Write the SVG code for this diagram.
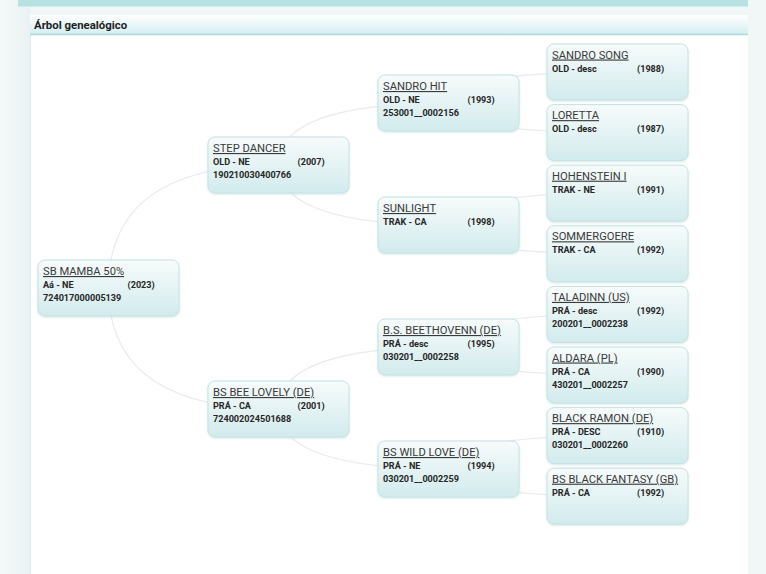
<svg xmlns="http://www.w3.org/2000/svg" width="766" height="574" viewBox="0 0 766 574">
<defs>
<linearGradient id="boxg" x1="0" y1="0" x2="0" y2="1">
<stop offset="0" stop-color="#f7fbfb"/>
<stop offset="1" stop-color="#d2ebed"/>
</linearGradient>
<linearGradient id="hdrg" x1="0" y1="0" x2="0" y2="1">
<stop offset="0" stop-color="#ffffff"/>
<stop offset="1" stop-color="#d2edef"/>
</linearGradient>
<linearGradient id="leftg" x1="0" y1="0" x2="1" y2="0">
<stop offset="0" stop-color="#f5f9f9"/>
<stop offset="1" stop-color="#e9f2f3"/>
</linearGradient>
<filter id="sh" x="-10%" y="-10%" width="120%" height="130%">
<feDropShadow dx="0" dy="1" stdDeviation="1" flood-color="#8fbfc2" flood-opacity="0.35"/>
</filter>
<style>
.box{fill:url(#boxg);stroke:#c6e2e4;stroke-width:1;filter:url(#sh)}
.nm{font-family:Roboto,"Liberation Sans",sans-serif;font-size:11.2px;fill:#3a3a3a;text-decoration:underline}
.dt{font-family:Roboto,"Liberation Sans",sans-serif;font-size:9.1px;font-weight:bold;fill:#262626}
.lk{fill:none;stroke:#eaedee;stroke-width:1.3}
.hd{font-family:Roboto,"Liberation Sans",sans-serif;font-size:11.4px;font-weight:bold;fill:#1e1e1e}
</style>
</defs>
<rect x="0" y="0" width="766" height="574" fill="#f1f7f7"/>
<rect x="0" y="0" width="30" height="574" fill="url(#leftg)"/>
<rect x="18" y="0" width="730" height="6.5" fill="#b8e1e2"/>
<rect x="30" y="15" width="718" height="559" fill="#ffffff"/>
<line x1="30.5" y1="15" x2="30.5" y2="574" stroke="#d8ebec" stroke-width="1"/>
<rect x="30" y="15" width="718" height="20" fill="url(#hdrg)"/>
<line x1="30" y1="34.5" x2="748" y2="34.5" stroke="#acdadc" stroke-width="1.5"/>
<text class="hd" x="34" y="29">Árbol genealógico</text>

<g id="connectors">
<path class="lk" d="M108.5,288 Q108.5,164.7 278.5,164.7"/>
<path class="lk" d="M108.5,288 Q108.5,409 278.5,409"/>
<path class="lk" d="M278.5,164.7 Q278.5,103 448.5,103"/>
<path class="lk" d="M278.5,164.7 Q278.5,225 448.5,225"/>
<path class="lk" d="M278.5,409 Q278.5,347 448.5,347"/>
<path class="lk" d="M278.5,409 Q278.5,469 448.5,469"/>
<path class="lk" d="M448.5,103 Q448.5,72 617.5,72"/>
<path class="lk" d="M448.5,103 Q448.5,132.6 617.5,132.6"/>
<path class="lk" d="M448.5,225 Q448.5,193.2 617.5,193.2"/>
<path class="lk" d="M448.5,225 Q448.5,253.8 617.5,253.8"/>
<path class="lk" d="M448.5,347 Q448.5,314.4 617.5,314.4"/>
<path class="lk" d="M448.5,347 Q448.5,375 617.5,375"/>
<path class="lk" d="M448.5,469 Q448.5,435.6 617.5,435.6"/>
<path class="lk" d="M448.5,469 Q448.5,496.2 617.5,496.2"/>
</g>

<g id="n-sbmamba">
<rect class="box" x="38" y="260" width="141" height="56" rx="7"/>
<text class="nm" x="43" y="275">SB MAMBA 50%</text>
<text class="dt" x="43" y="288">Aá - NE</text>
<text class="dt" x="127.5" y="288">(2023)</text>
<text class="dt" x="43" y="301">724017000005139</text>
</g>

<g id="n-stepdancer">
<rect class="box" x="208" y="137" width="141" height="56" rx="7"/>
<text class="nm" x="213" y="152">STEP DANCER</text>
<text class="dt" x="213" y="165">OLD - NE</text>
<text class="dt" x="297.5" y="165">(2007)</text>
<text class="dt" x="213" y="178">190210030400766</text>
</g>

<g id="n-beelovely">
<rect class="box" x="208" y="381" width="141" height="56" rx="7"/>
<text class="nm" x="213" y="396">BS BEE LOVELY (DE)</text>
<text class="dt" x="213" y="409">PRÁ - CA</text>
<text class="dt" x="297.5" y="409">(2001)</text>
<text class="dt" x="213" y="422">724002024501688</text>
</g>

<g id="n-sandrohit">
<rect class="box" x="378" y="75" width="141" height="56" rx="7"/>
<text class="nm" x="383" y="90">SANDRO HIT</text>
<text class="dt" x="383" y="103">OLD - NE</text>
<text class="dt" x="467.5" y="103">(1993)</text>
<text class="dt" x="383" y="116">253001__0002156</text>
</g>

<g id="n-sunlight">
<rect class="box" x="378" y="197" width="141" height="56" rx="7"/>
<text class="nm" x="383" y="212">SUNLIGHT</text>
<text class="dt" x="383" y="225">TRAK - CA</text>
<text class="dt" x="467.5" y="225">(1998)</text>
</g>

<g id="n-beethovenn">
<rect class="box" x="378" y="319" width="141" height="56" rx="7"/>
<text class="nm" x="383" y="334">B.S. BEETHOVENN (DE)</text>
<text class="dt" x="383" y="347">PRÁ - desc</text>
<text class="dt" x="467.5" y="347">(1995)</text>
<text class="dt" x="383" y="360">030201__0002258</text>
</g>

<g id="n-wildlove">
<rect class="box" x="378" y="441" width="141" height="56" rx="7"/>
<text class="nm" x="383" y="456">BS WILD LOVE (DE)</text>
<text class="dt" x="383" y="469">PRÁ - NE</text>
<text class="dt" x="467.5" y="469">(1994)</text>
<text class="dt" x="383" y="482">030201__0002259</text>
</g>

<g id="n-sandrosong">
<rect class="box" x="547" y="44" width="141" height="56" rx="7"/>
<text class="nm" x="552" y="58.5">SANDRO SONG</text>
<text class="dt" x="552" y="71.5">OLD - desc</text>
<text class="dt" x="637" y="71.5">(1988)</text>
</g>

<g id="n-loretta">
<rect class="box" x="547" y="104.6" width="141" height="56" rx="7"/>
<text class="nm" x="552" y="119.1">LORETTA</text>
<text class="dt" x="552" y="132.1">OLD - desc</text>
<text class="dt" x="637" y="132.1">(1987)</text>
</g>

<g id="n-hohenstein">
<rect class="box" x="547" y="165.2" width="141" height="56" rx="7"/>
<text class="nm" x="552" y="179.7">HOHENSTEIN I</text>
<text class="dt" x="552" y="192.7">TRAK - NE</text>
<text class="dt" x="637" y="192.7">(1991)</text>
</g>

<g id="n-sommergoere">
<rect class="box" x="547" y="225.8" width="141" height="56" rx="7"/>
<text class="nm" x="552" y="240.3">SOMMERGOERE</text>
<text class="dt" x="552" y="253.3">TRAK - CA</text>
<text class="dt" x="637" y="253.3">(1992)</text>
</g>

<g id="n-taladinn">
<rect class="box" x="547" y="286.4" width="141" height="56" rx="7"/>
<text class="nm" x="552" y="300.9">TALADINN (US)</text>
<text class="dt" x="552" y="313.9">PRÁ - desc</text>
<text class="dt" x="637" y="313.9">(1992)</text>
<text class="dt" x="552" y="326.9">200201__0002238</text>
</g>

<g id="n-aldara">
<rect class="box" x="547" y="347" width="141" height="56" rx="7"/>
<text class="nm" x="552" y="361.5">ALDARA (PL)</text>
<text class="dt" x="552" y="374.5">PRÁ - CA</text>
<text class="dt" x="637" y="374.5">(1990)</text>
<text class="dt" x="552" y="387.5">430201__0002257</text>
</g>

<g id="n-blackramon">
<rect class="box" x="547" y="407.6" width="141" height="56" rx="7"/>
<text class="nm" x="552" y="422.1">BLACK RAMON (DE)</text>
<text class="dt" x="552" y="435.1">PRÁ - DESC</text>
<text class="dt" x="637" y="435.1">(1910)</text>
<text class="dt" x="552" y="448.1">030201__0002260</text>
</g>

<g id="n-blackfantasy">
<rect class="box" x="547" y="468.2" width="141" height="56" rx="7"/>
<text class="nm" x="552" y="482.7">BS BLACK FANTASY (GB)</text>
<text class="dt" x="552" y="495.7">PRÁ - CA</text>
<text class="dt" x="637" y="495.7">(1992)</text>
</g>
</svg>
